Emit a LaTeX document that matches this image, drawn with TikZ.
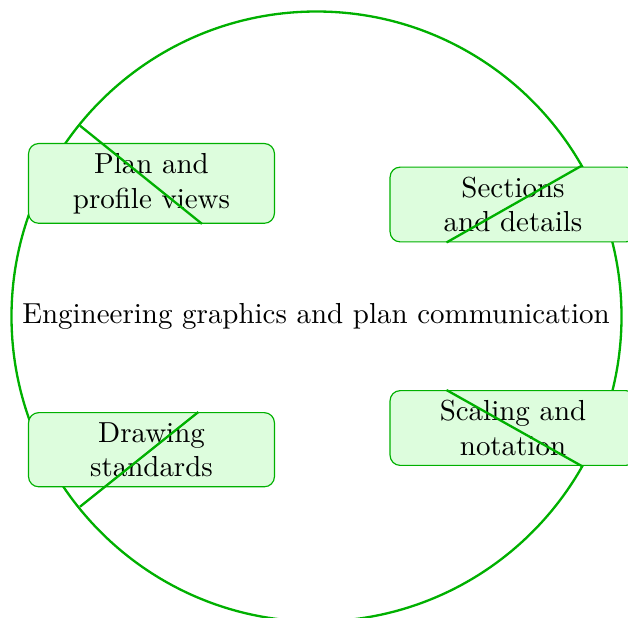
\documentclass[tikz,border=0pt]{standalone}
\usetikzlibrary{calc}
\definecolor{lineg}{RGB}{0,176,0}
\definecolor{fillg}{RGB}{221,253,221}
\tikzset{
  topicbox/.style={draw=lineg, line width=0.4pt, fill=fillg, rounded corners=3.5pt,
    text width=2.75cm, align=center, inner sep=3.33pt, font=\normalsize},
  ring/.style={draw=lineg, line width=0.8pt},
  link/.style={draw=lineg, line width=0.8pt}
}
\begin{document}
\begin{tikzpicture}[x=0.3453pt, y=-0.3453pt]
\clip (0,0) rectangle (628,617);
\coordinate (c) at (316.5,316.5);
\draw[ring] (c) circle (305);
\node (centre) at (316,316) {Engineering graphics and plan communication};
\node[topicbox] (tl) at (151.5,183.4) {Plan and profile views};
\node[topicbox] (tr) at (513,204.5) {Sections and details};
\node[topicbox] (bl) at (151.5,449.7) {Drawing standards};
\node[topicbox] (br) at (513,428) {Scaling and notation};
\coordinate (ptl) at (80,125.7);
\coordinate (ptr) at (581.7,165.7);
\coordinate (pbl) at (80,506.7);
\coordinate (pbr) at (581.7,466);
\coordinate (etl) at ($(tl.south)+(50.5,0)$);
\coordinate (etr) at ($(tr.south)+(-66.5,0)$);
\coordinate (ebl) at ($(bl.north)+(46.8,0)$);
\coordinate (ebr) at ($(br.north)+(-66.5,0)$);
\draw[link] (ptl) -- (etl);
\draw[link] (ptr) -- (etr);
\draw[link] (pbl) -- (ebl);
\draw[link] (pbr) -- (ebr);
\end{tikzpicture}
\end{document}
